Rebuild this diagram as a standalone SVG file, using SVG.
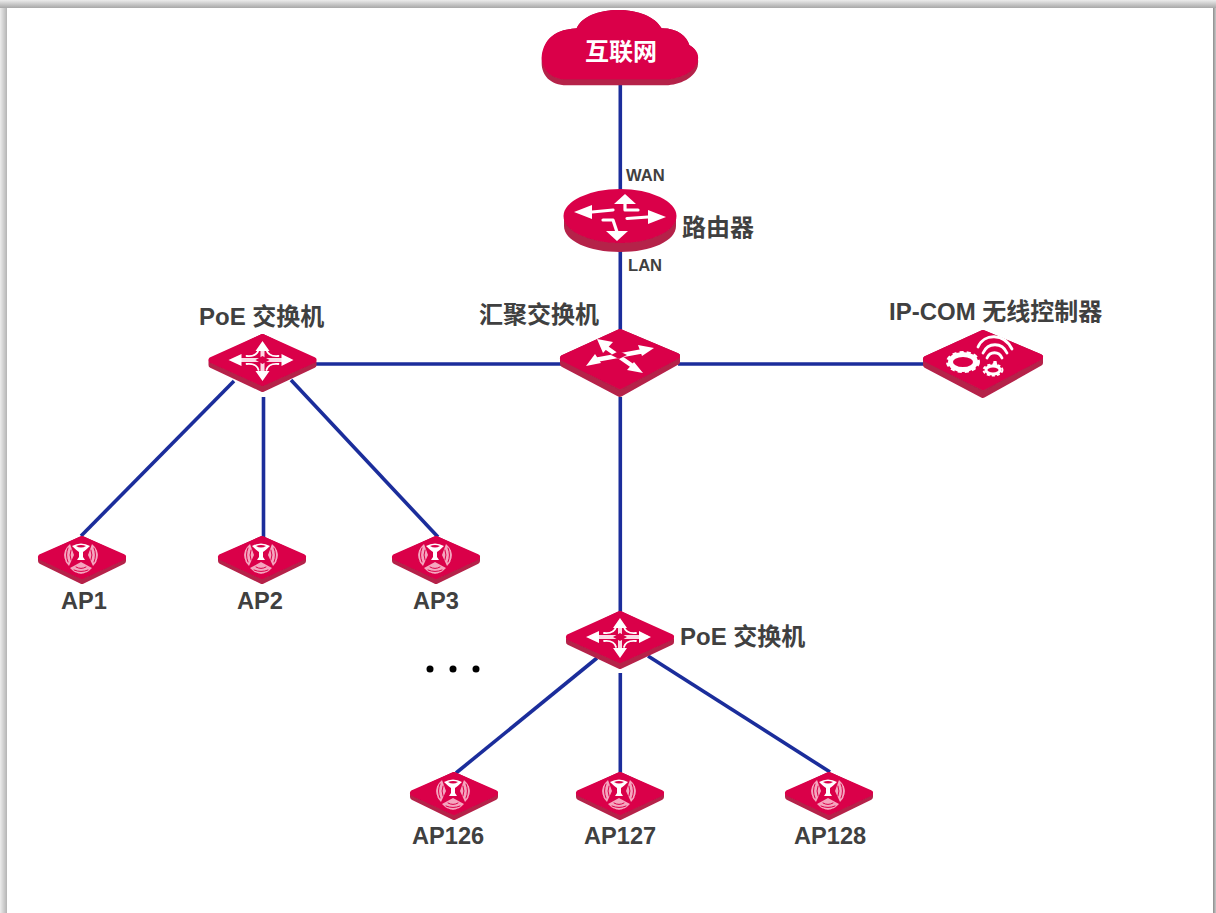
<svg xmlns="http://www.w3.org/2000/svg" xmlns:xlink="http://www.w3.org/1999/xlink" width="1216" height="913" viewBox="0 0 1216 913">
<style>
text{font-family:"Liberation Sans","Noto Sans CJK SC",sans-serif;font-weight:700;fill:#404040;font-size:24px}
.wl{fill:#fff;font-size:24px}
.sm{font-size:16.6px}
.lb{font-size:23.6px}
.cn{fill:none;stroke:#1b2d9b;stroke-width:3.6}
.side{fill:#b5204a;stroke:#b5204a;stroke-width:6;stroke-linejoin:round}
.face{fill:#da0049;stroke:#da0049;stroke-width:6;stroke-linejoin:round}
.w{fill:none;stroke:#fff;stroke-width:3.2;stroke-linecap:round;stroke-linejoin:round}
.wf{fill:#fff}
.lobe{fill:#f5a6bf}
.st{fill:none;stroke:#da0049;stroke-width:1;stroke-linecap:round}
.ic{filter:url(#soft)}
</style>
<defs>
<filter id="soft" x="-10%" y="-10%" width="120%" height="120%"><feGaussianBlur stdDeviation="0.55"/></filter>
<linearGradient id="gt" x1="0" y1="0" x2="0" y2="1"><stop offset="0" stop-color="#ececec"/><stop offset="1" stop-color="#a8a8a8"/></linearGradient>
<linearGradient id="gl" x1="0" y1="0" x2="1" y2="0"><stop offset="0" stop-color="#ececec"/><stop offset="1" stop-color="#b4b4b4"/></linearGradient>
<linearGradient id="gr" x1="0" y1="0" x2="1" y2="0"><stop offset="0" stop-color="#8c8c8c"/><stop offset="1" stop-color="#c8c8c8"/></linearGradient>
<g id="ap">
<path class="side" d="M-41,1 L0,-18 L41,1 L41,4 L0,24 L-41,4Z"/>
<path class="face" d="M-41,0 L0,-18 L41,0 L0,19Z"/>
<path class="lobe" d="M-8,-2 L-12,-13 Q-24,-2 -13,9Z"/>
<path class="st" d="M-11,-7 Q-13,-2 -11,3M-14,-9 Q-17,-2 -14,5M-17,-8 Q-20,-2 -17,4"/>
<path class="lobe" d="M6,-2 L10,-13 Q22,-2 11,9Z"/>
<path class="st" d="M9,-7 Q11,-2 9,3M12,-9 Q15,-2 12,5M15,-8 Q18,-2 15,4"/>
<path class="lobe" d="M-1,5 L-12,11 Q-1,23 10,11Z"/>
<path class="st" d="M-6,10 Q-1,13 4,10M-8,13 Q-1,16 6,13M-6,16 Q-1,19 4,16"/>
<path class="wf" d="M-10,-11 Q-1,-16 8,-11 Q4,-7 1,-5 L1,0 L3,3 L-5,3 L-3,0 L-3,-5 Q-6,-7 -10,-11Z"/>
<path fill="#da0049" d="M-6,-11 Q-1,-13 4,-11 Q-1,-8 -6,-11Z"/>
</g>
<g id="poe">
<path class="side" d="M-51,2 L0,-23 L51,2 L51,5 L0,29 L-51,5Z"/>
<path class="face" d="M-51,0 L0,-23 L51,0 L0,23Z"/>
<path class="w" style="stroke:#fbdbe5;stroke-width:4" d="M-26,0 H26M0,-12 V13"/>
<path class="w" style="stroke-width:1.8" d="M-16,-4 Q-6,-3 -4,-10M16,-4 Q6,-3 4,-10M-16,4 Q-6,3 -4,10M16,4 Q6,3 4,10"/>
<path class="wf" d="M-34,0 L-21,-6 L-21,6ZM31,0 L19,-6 L19,6ZM0,-19 L-7,-9 L7,-9ZM0,21 L-7,11 L7,11Z"/>
<path fill="#da0049" d="M-7,0 L0,-4 L7,0 L0,4Z"/>
</g>
<g id="plat">
<path class="side" d="M-57,0 L0,-26 L57,-2 L57,4 L0,36 L-57,6Z"/>
<path class="face" d="M-57,0 L0,-26 L57,-2 L0,28Z"/>
</g>
</defs>

<rect width="1216" height="913" fill="#fff"/>
<rect x="0" y="0" width="7" height="913" fill="url(#gl)"/>
<rect x="1213" y="0" width="3" height="913" fill="url(#gr)"/>
<rect x="0" y="0" width="1216" height="8" fill="url(#gt)"/>

<g id="connectors">
<path class="cn" d="M620.3,85V192"/>
<path class="cn" d="M620.3,250V331"/>
<path class="cn" d="M314,364H562"/>
<path class="cn" d="M678,364H926"/>
<path class="cn" d="M620.3,397V613"/>
<path class="cn" d="M234,381L81,536"/>
<path class="cn" d="M263.5,397V537"/>
<path class="cn" d="M291,380L438,537"/>
<path class="cn" d="M597,658L456,773"/>
<path class="cn" d="M620.3,673V773"/>
<path class="cn" d="M648,656L830,772"/>
<text class="sm" x="626" y="180.500">WAN</text>
<text class="sm" x="628" y="271">LAN</text>
</g>

<g id="internet">
<g class="ic">
<g transform="translate(530,0) scale(.3333)">
<path fill="#b5204a" d="M35,180 C40,130 60,90 140,85 C155,50 205,30 265,30 C325,30 375,50 395,85 C445,85 470,110 478,135 C505,150 507,180 503,200 C490,240 440,256 400,256 H110 C60,256 35,225 35,190Z"/>
<path fill="#da0049" d="M35,170 C40,130 60,90 140,85 C155,50 205,30 265,30 C325,30 375,50 395,85 C445,85 470,110 478,135 C505,150 507,170 503,185 C490,222 440,238 400,238 H110 C60,238 35,205 35,170Z"/>
</g>
</g>
<text class="wl" x="585" y="60">互联网</text>
</g>

<g id="router">
<g class="ic">
<path fill="#b5204a" d="M564,216 V226 C564,241 589,252 620,252 C651,252 676,241 676,226 V216Z"/>
<ellipse cx="620" cy="216" rx="56.500" ry="27" fill="#da0049"/>
<path class="w" d="M625,202V210H638M592,212L613,210M648,217L627,218.500M617,232L613,220H603"/>
<path class="wf" d="M574,212L592,205V219ZM666,217L648,210V224ZM625,194L614,204H636ZM617,241L606,231H628Z"/>
</g>
<text x="682" y="236">路由器</text>
</g>

<g id="poe-left">
<use class="ic" xlink:href="#poe" href="#poe" transform="translate(262.500,360)"/>
<text x="199" y="325">PoE 交换机</text>
</g>

<g id="aggregation">
<g class="ic">
<use xlink:href="#plat" href="#plat" transform="translate(620,358)"/>
<path class="w" style="stroke-width:4.500;stroke-linecap:butt" d="M604,346L634,367M644,351L595,360"/>
<path class="wf" d="M597,339L613,342L603,353ZM654,348L638,345L642,356ZM586,366L601,363L595,354ZM643,373L627,370L634,362Z"/>
<path fill="#da0049" d="M611,355L619,351L627,355L619,359Z"/>
</g>
<text x="479" y="323">汇聚交换机</text>
</g>

<g id="controller">
<g class="ic">
<use xlink:href="#plat" href="#plat" transform="translate(983,359)"/>
<ellipse cx="963" cy="362" rx="12.500" ry="7.500" fill="none" stroke="#fff" stroke-width="5"/>
<ellipse cx="963" cy="362" rx="15.500" ry="9.500" fill="none" stroke="#fff" stroke-width="3" stroke-dasharray="4 3"/>
<ellipse cx="993" cy="370" rx="7" ry="4" fill="none" stroke="#fff" stroke-width="3"/>
<ellipse cx="993" cy="370" rx="9.500" ry="5.500" fill="none" stroke="#fff" stroke-width="2" stroke-dasharray="3 2"/>
<path class="w" style="stroke-width:2.800" d="M978,347C984,333 1004,333 1012,349M983,353C988,342 1002,342 1007,353M987,358C990,351 999,351 1002,358"/>
<path class="wf" d="M993.500,361h3l1,5h-5z"/>
</g>
<text x="889" y="320">IP-COM 无线控制器</text>
</g>

<g id="ap1"><use class="ic" xlink:href="#ap" href="#ap" transform="translate(82,557)"/><text class="lb" x="61" y="609">AP1</text></g>
<g id="ap2"><use class="ic" xlink:href="#ap" href="#ap" transform="translate(262,557)"/><text class="lb" x="237" y="609">AP2</text></g>
<g id="ap3"><use class="ic" xlink:href="#ap" href="#ap" transform="translate(436,557)"/><text class="lb" x="413" y="609">AP3</text></g>

<g id="poe-lower">
<use class="ic" xlink:href="#poe" href="#poe" transform="translate(620,637)"/>
<text x="680" y="645">PoE 交换机</text>
</g>

<g id="dots" fill="#000"><circle cx="430" cy="669" r="3.500"/><circle cx="453" cy="669" r="3.500"/><circle cx="476" cy="669" r="3.500"/></g>

<g id="ap126"><use class="ic" xlink:href="#ap" href="#ap" transform="translate(454,793)"/><text class="lb" x="412" y="844">AP126</text></g>
<g id="ap127"><use class="ic" xlink:href="#ap" href="#ap" transform="translate(620,793)"/><text class="lb" x="584" y="844">AP127</text></g>
<g id="ap128"><use class="ic" xlink:href="#ap" href="#ap" transform="translate(829,793)"/><text class="lb" x="794" y="844">AP128</text></g>
</svg>
